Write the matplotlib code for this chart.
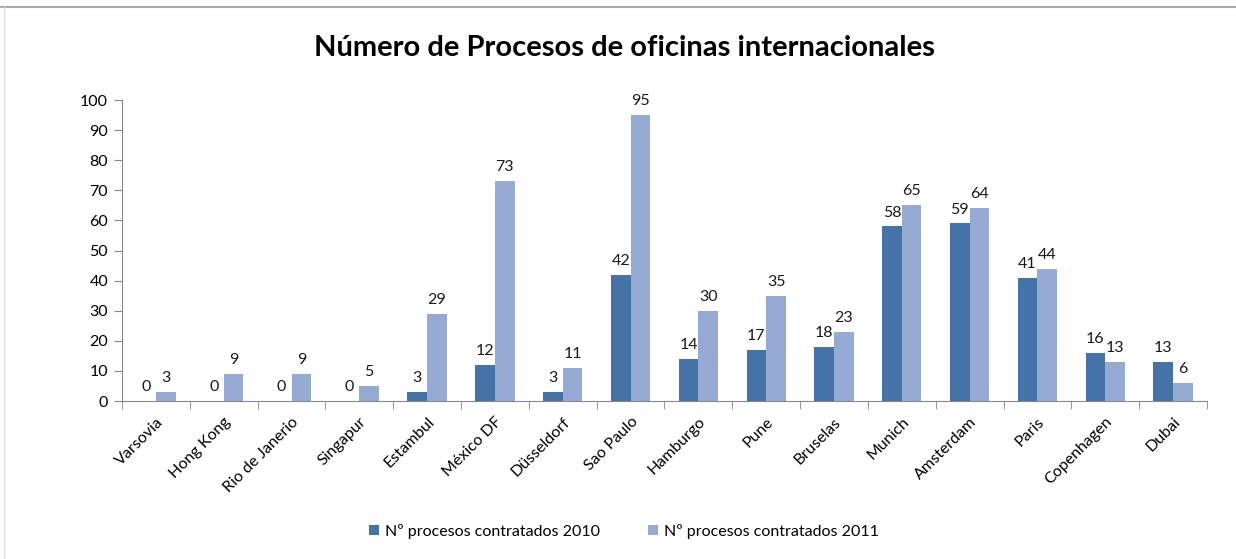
import numpy as np
import matplotlib
matplotlib.use("Agg")
from matplotlib import pyplot as plt
from matplotlib.lines import Line2D

cities = ["Varsovia", "Hong Kong", "Rio de Janerio", "Singapur", "Estambul", "México DF",
          "Düsseldorf", "Sao Paulo", "Hamburgo", "Pune", "Bruselas", "Munich",
          "Amsterdam", "Paris", "Copenhagen", "Dubai"]
v2010 = [0, 0, 0, 0, 3, 12, 3, 42, 14, 17, 18, 58, 59, 41, 16, 13]
v2011 = [3, 9, 9, 5, 29, 73, 11, 95, 30, 35, 23, 65, 64, 44, 13, 6]

plt.rcParams["font.family"] = ["Lato", "DejaVu Sans"]

fig = plt.figure(figsize=(12.36, 5.59), dpi=100)
ax = fig.add_axes([0.0987, 0.2826, 0.8778, 0.5384])

c1 = "#4572a7"
c2 = "#95abd3"
w = 0.29
x = np.arange(len(cities))
b1 = ax.bar(x - w / 2, v2010, w, color=c1, label="Nº procesos contratados 2010")
b2 = ax.bar(x + w / 2, v2011, w, color=c2, label="Nº procesos contratados 2011")
for bars in (b1, b2):
    for r in bars:
        ax.annotate(f"{int(r.get_height())}", (r.get_x() + r.get_width() / 2, r.get_height()),
                    xytext=(0, 5), textcoords="offset points", ha="center", va="bottom",
                    fontsize=11.5, color="#1a1a1a")

ax.set_xlim(-0.5, len(cities) - 0.5)
ax.set_ylim(0, 100)
ax.set_yticks(range(0, 101, 10))
ax.set_xticks(x)
ax.set_xticklabels(cities, rotation=45, ha="right", rotation_mode="anchor", fontsize=11.5)
ax.set_xticks(np.arange(-0.5, len(cities)), minor=True)
ax.tick_params(axis="x", which="major", length=0, pad=10)
ax.tick_params(axis="x", which="minor", length=6, color="#888888", direction="out")
ax.tick_params(axis="y", length=6, color="#888888", labelsize=11.5, pad=4)
for s in ["top", "right"]:
    ax.spines[s].set_visible(False)
for s in ["left", "bottom"]:
    ax.spines[s].set_color("#888888")

fig.text(0.505, 0.915, "Número de Procesos de oficinas internacionales", ha="center", va="center",
         fontsize=21, fontweight="bold")
fig.legend(handles=[b1, b2], loc="center", bbox_to_anchor=(0.505, 0.05), ncol=2, frameon=False,
           fontsize=11.5, handlelength=0.6, handleheight=0.6, columnspacing=3, handletextpad=0.4)

fig.add_artist(Line2D([0, 1], [0.987, 0.987], color="#aaaaaa", lw=1.5, transform=fig.transFigure))
fig.add_artist(Line2D([0.003, 0.003], [0, 0.987], color="#dddddd", lw=1, transform=fig.transFigure))

fig.savefig("out.png", dpi=100)
